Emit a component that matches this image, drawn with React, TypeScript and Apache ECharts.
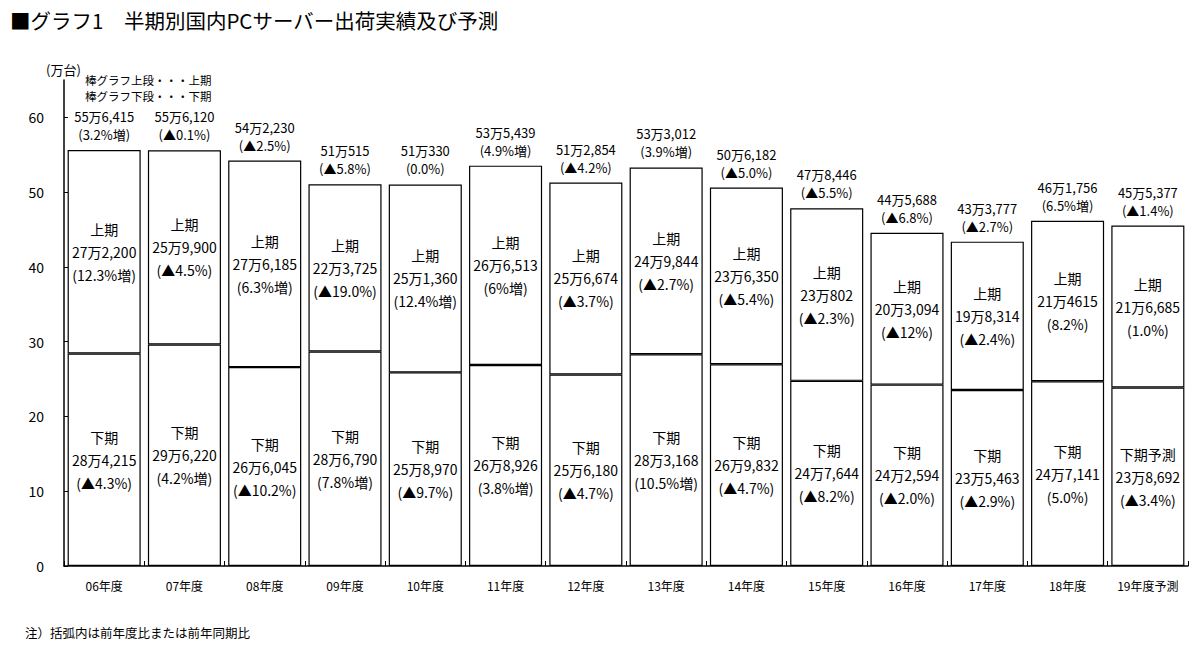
import React, { useEffect, useRef } from "react";
import * as echarts from "echarts";

const categories = ["06年度", "07年度", "08年度", "09年度", "10年度", "11年度", "12年度", "13年度", "14年度", "15年度", "16年度", "17年度", "18年度", "19年度予測"];

// 下期 (lower segment), units: 台
const lowerCounts = [284215, 296220, 266045, 286790, 258970, 268926, 256180, 283168, 269832, 247644, 242594, 235463, 247141, 238692];
const lowerText = ["28万4,215", "29万6,220", "26万6,045", "28万6,790", "25万8,970", "26万8,926", "25万6,180", "28万3,168", "26万9,832", "24万7,644", "24万2,594", "23万5,463", "24万7,141", "23万8,692"];
const lowerRate = ["(▲4.3%)", "(4.2%増)", "(▲10.2%)", "(7.8%増)", "(▲9.7%)", "(3.8%増)", "(▲4.7%)", "(10.5%増)", "(▲4.7%)", "(▲8.2%)", "(▲2.0%)", "(▲2.9%)", "(5.0%)", "(▲3.4%)"];
const lowerName = ["下期", "下期", "下期", "下期", "下期", "下期", "下期", "下期", "下期", "下期", "下期", "下期", "下期", "下期予測"];

// 上期 (upper segment), units: 台
const upperCounts = [272200, 259900, 276185, 223725, 251360, 266513, 256674, 249844, 236350, 230802, 203094, 198314, 214615, 216685];
const upperText = ["27万2,200", "25万9,900", "27万6,185", "22万3,725", "25万1,360", "26万6,513", "25万6,674", "24万9,844", "23万6,350", "23万802", "20万3,094", "19万8,314", "21万4615", "21万6,685"];
const upperRate = ["(12.3%増)", "(▲4.5%)", "(6.3%増)", "(▲19.0%)", "(12.4%増)", "(6%増)", "(▲3.7%)", "(▲2.7%)", "(▲5.4%)", "(▲2.3%)", "(▲12%)", "(▲2.4%)", "(8.2%)", "(1.0%)"];

// 年度合計
const totalText = ["55万6,415", "55万6,120", "54万2,230", "51万515", "51万330", "53万5,439", "51万2,854", "53万3,012", "50万6,182", "47万8,446", "44万5,688", "43万3,777", "46万1,756", "45万5,377"];
const totalRate = ["(3.2%増)", "(▲0.1%)", "(▲2.5%)", "(▲5.8%)", "(0.0%)", "(4.9%増)", "(▲4.2%)", "(3.9%増)", "(▲5.0%)", "(▲5.5%)", "(▲6.8%)", "(▲2.7%)", "(6.5%増)", "(▲1.4%)"];

const yTicks = { min: 0, max: 65, interval: 10 };

const FONT = '"Noto Sans CJK JP", "Noto Sans", sans-serif';

export default function App() {
  const ref = useRef<HTMLDivElement>(null);

  useEffect(() => {
    if (!ref.current) return;
    const chart = echarts.init(ref.current, null, { renderer: "svg" });
    const lower = lowerCounts.map((c) => c / 10000);
    const upper = upperCounts.map((c) => c / 10000);
    const totals = lower.map((v, i) => v + upper[i]);

    const barStyle = { color: "#ffffff", borderColor: "#000000", borderWidth: 1.2 };

    chart.setOption({
      animation: false,
      textStyle: { fontFamily: FONT, color: "#000" },
      grid: { left: 64, right: 11, top: 80, bottom: 89 },
      xAxis: {
        type: "category",
        data: categories,
        axisLine: { lineStyle: { color: "#000", width: 1.5 } },
        axisTick: { show: true, inside: true, length: 5, lineStyle: { color: "#000" } },
        axisLabel: { fontSize: 12, color: "#000", margin: 13, fontFamily: FONT },
      },
      yAxis: {
        type: "value",
        min: yTicks.min,
        max: yTicks.max,
        interval: yTicks.interval,
        splitLine: { show: false },
        axisLine: { show: true, lineStyle: { color: "#000", width: 1.5 } },
        axisTick: { show: true, inside: true, length: 4, lineStyle: { color: "#000" } },
        axisLabel: { fontSize: 14, color: "#000", margin: 20, showMaxLabel: false, fontFamily: FONT },
      },
      series: [
        {
          name: "下期",
          type: "bar",
          stack: "total",
          barCategoryGap: "9%",
          data: lower,
          itemStyle: barStyle,
          label: {
            show: true,
            position: "inside",
            fontSize: 14,
            lineHeight: 23,
            color: "#000",
            fontFamily: FONT,
            formatter: (p: any) => `${lowerName[p.dataIndex]}\n${lowerText[p.dataIndex]}\n${lowerRate[p.dataIndex]}`,
          },
        },
        {
          name: "上期",
          type: "bar",
          stack: "total",
          barCategoryGap: "9%",
          data: upper,
          itemStyle: barStyle,
          label: {
            show: true,
            position: "inside",
            fontSize: 14,
            lineHeight: 23,
            color: "#000",
            fontFamily: FONT,
            formatter: (p: any) => `上期\n${upperText[p.dataIndex]}\n${upperRate[p.dataIndex]}`,
          },
        },
        {
          name: "合計",
          type: "scatter",
          data: totals,
          symbolSize: 1,
          itemStyle: { color: "rgba(0,0,0,0)" },
          z: 5,
          label: {
            show: true,
            position: "top",
            distance: 6,
            fontSize: 13,
            lineHeight: 18,
            color: "#000",
            opacity: 1,
            fontFamily: FONT,
            formatter: (p: any) => `${totalText[p.dataIndex]}\n${totalRate[p.dataIndex]}`,
          },
        },
      ],
      graphic: [
        {
          type: "text",
          left: 10,
          top: 10,
          style: { text: "■グラフ1　半期別国内PCサーバー出荷実績及び予測", fontSize: 20.5, fill: "#000", fontFamily: FONT },
        },
        {
          type: "text",
          left: 46,
          top: 63,
          style: { text: "(万台)", fontSize: 13, fill: "#000", fontFamily: FONT },
        },
        {
          type: "text",
          left: 85,
          top: 74,
          style: { text: "棒グラフ上段・・・上期", fontSize: 11.5, fill: "#000", fontFamily: FONT },
        },
        {
          type: "text",
          left: 85,
          top: 90,
          style: { text: "棒グラフ下段・・・下期", fontSize: 11.5, fill: "#000", fontFamily: FONT },
        },
        {
          type: "text",
          left: 25,
          top: 626,
          style: { text: "注）括弧内は前年度比または前年同期比", fontSize: 12.5, fill: "#000", fontFamily: FONT },
        },
      ],
    });
    return () => chart.dispose();
  }, []);

  return (
    <div
      ref={ref}
      style={{ position: "absolute", left: 0, top: 0, width: 1199, height: 655, background: "#fff" }}
    />
  );
}
